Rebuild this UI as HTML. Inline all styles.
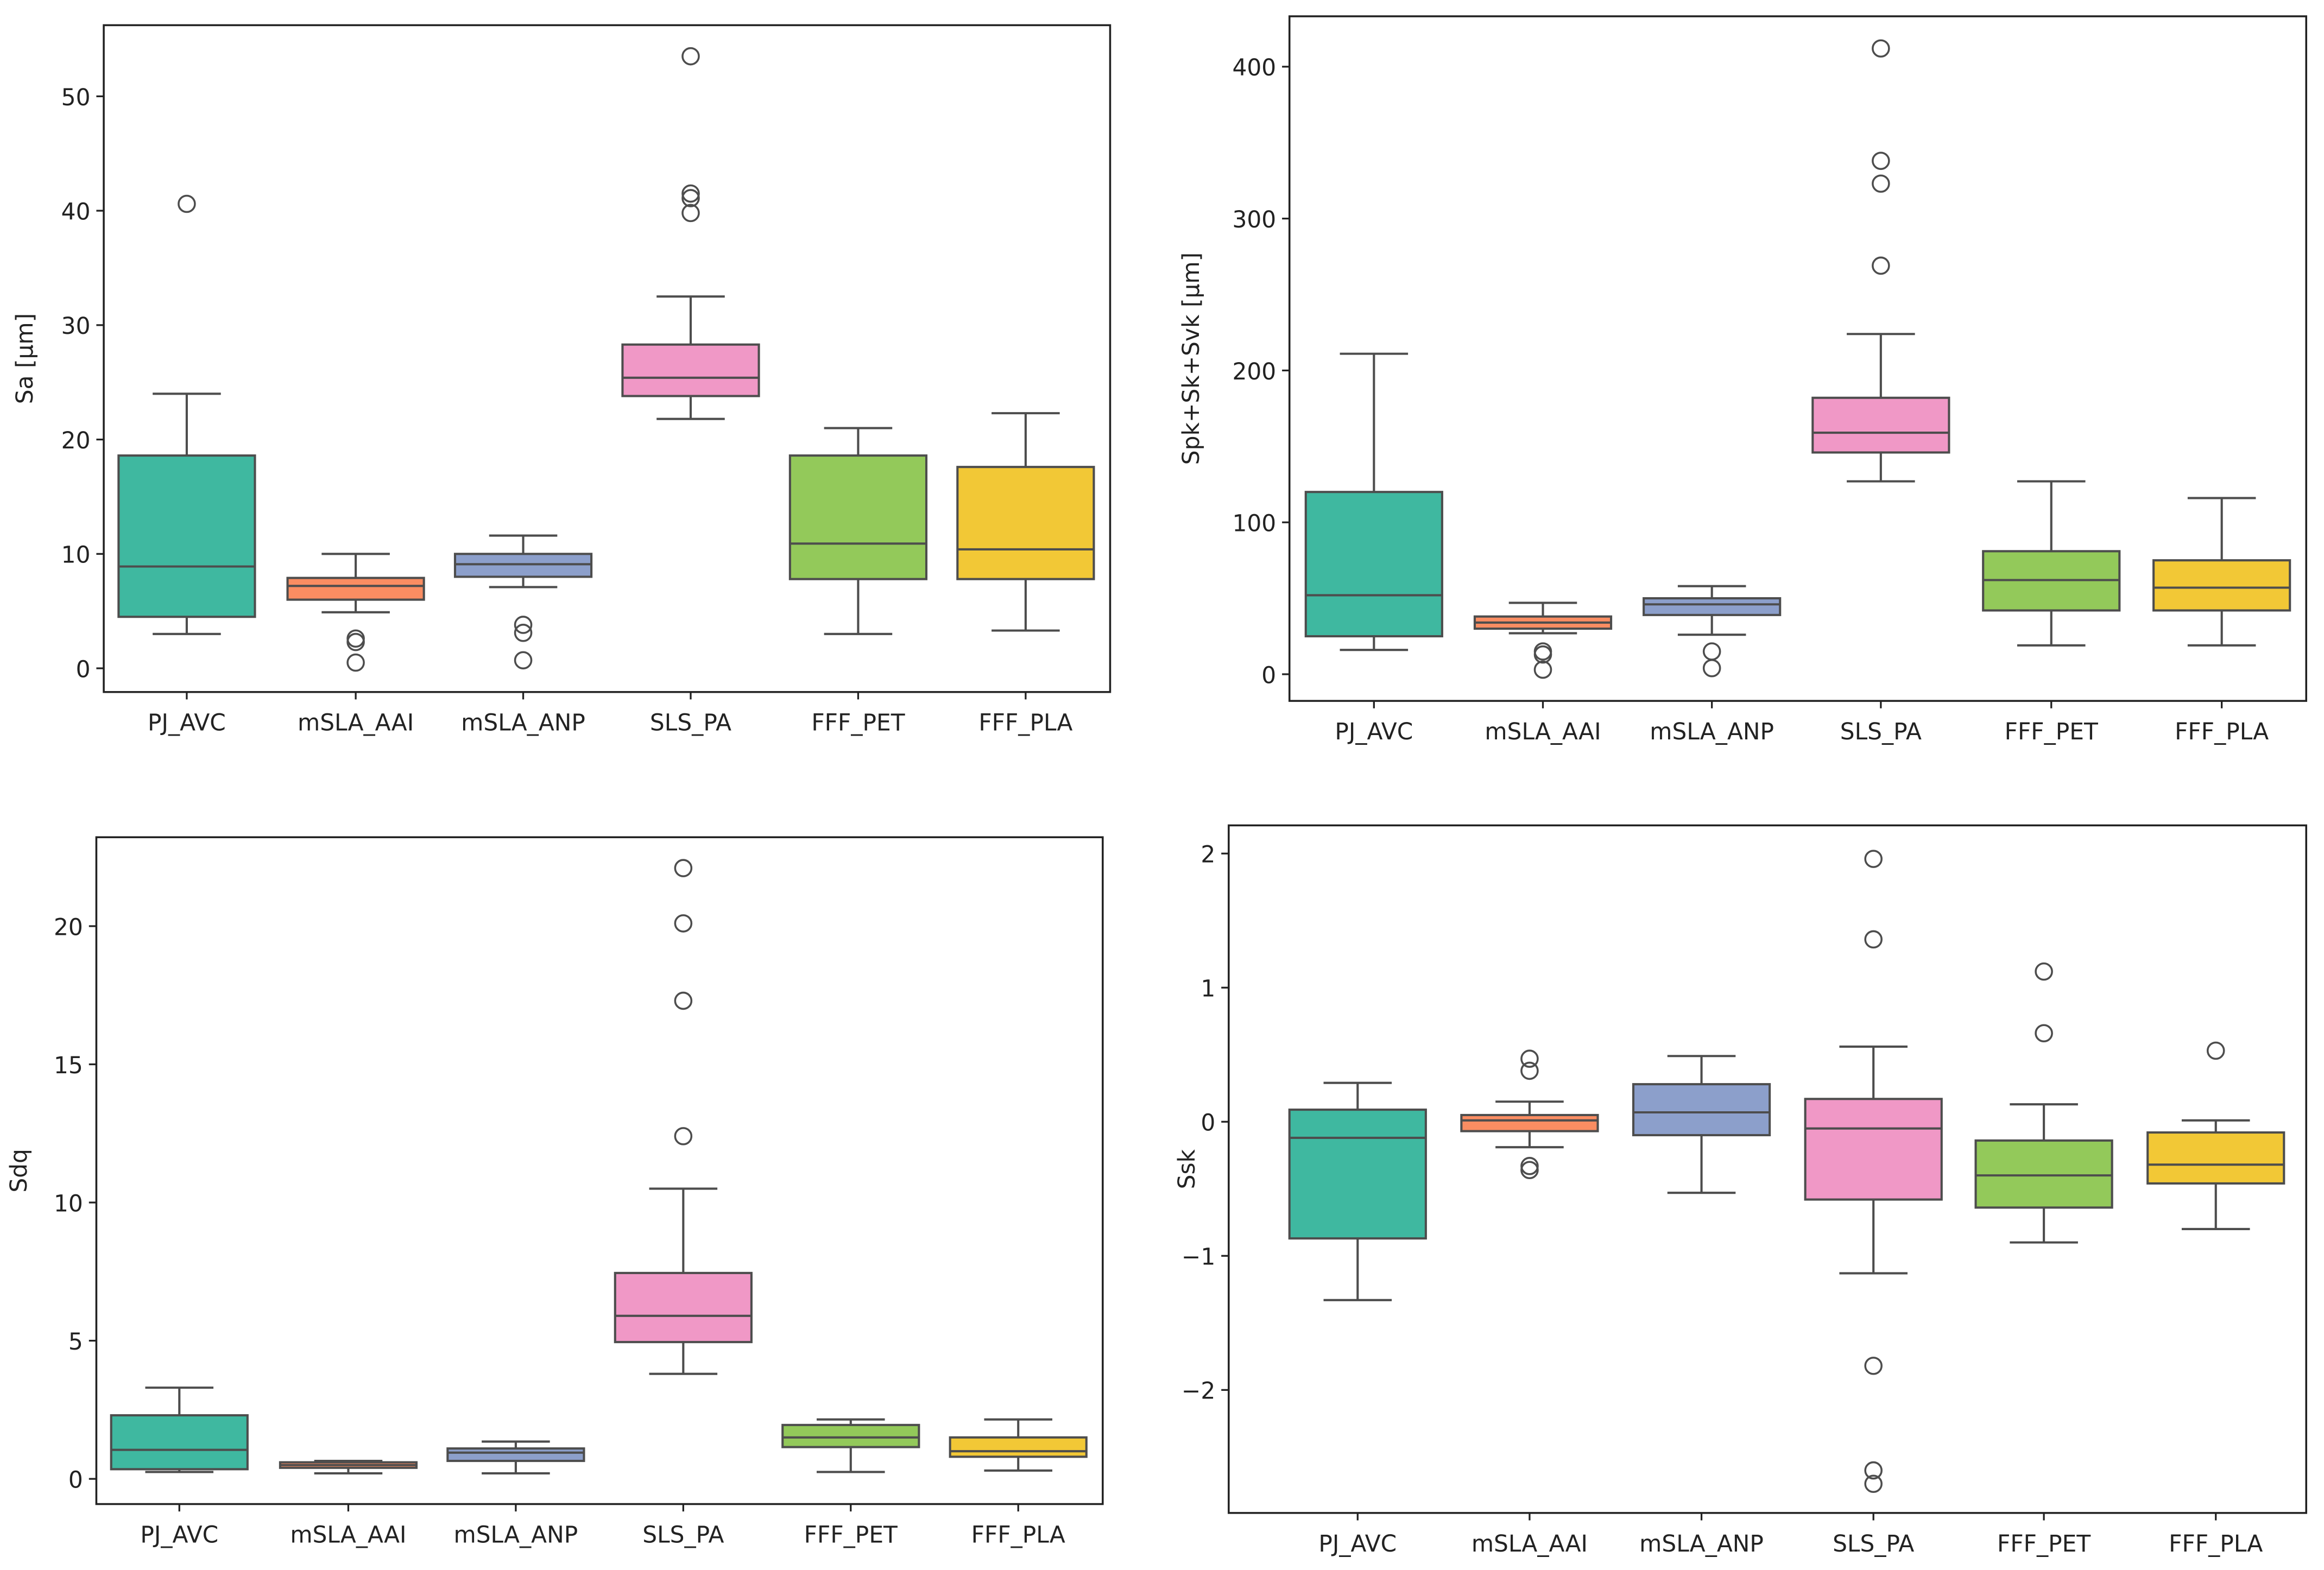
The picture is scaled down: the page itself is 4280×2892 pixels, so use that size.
<!DOCTYPE html>
<html><head><meta charset="utf-8"><style>
html,body{margin:0;padding:0;background:#fff}
svg{display:block}
text{font-family:"DejaVu Sans","Liberation Sans",sans-serif;fill:#222}
</style></head><body>
<svg id="fig" width="4280" height="2892" viewBox="0 0 1568 1059.5" xmlns="http://www.w3.org/2000/svg"></svg>
<script>
const categories = ["PJ_AVC","mSLA_AAI","mSLA_ANP","SLS_PA","FFF_PET","FFF_PLA"];
const colors = ["#3fb8a0","#fa8d62","#8c9fcb","#f098c6","#93c95a","#f2c836"];
// [whiskerLow, q1, median, q3, whiskerHigh]
const saStats = [[3,4.5,8.9,18.6,24],[4.9,6,7.2,7.9,10],[7.1,8,9.1,10,11.6],[21.8,23.8,25.4,28.3,32.5],[3,7.8,10.9,18.6,21],[3.3,7.8,10.4,17.6,22.3]];
const saOut = [[40.6],[2.6,2.3,0.5],[3.8,3.1,0.7],[53.5,41.5,41.1,39.8],[],[]];
const saTicks = [0,10,20,30,40,50];
const spStats = [[16,25,52,120,211],[27,30,34,38,47],[26,39,46,50,58],[127,146,159,182,224],[19,42,62,81,127],[19,42,57,75,116]];
const spOut = [[],[15,13,3],[15,4],[412,338,323,269],[],[]];
const spTicks = [0,100,200,300,400];
const sdqStats = [[0.25,0.35,1.05,2.3,3.3],[0.2,0.4,0.5,0.6,0.65],[0.2,0.65,0.95,1.1,1.35],[3.8,4.95,5.9,7.45,10.5],[0.25,1.15,1.5,1.95,2.15],[0.3,0.8,1.0,1.5,2.15]];
const sdqOut = [[],[],[],[22.1,20.1,17.3,12.4],[],[]];
const sdqTicks = [0,5,10,15,20];
const sskStats = [[-1.33,-0.87,-0.12,0.09,0.29],[-0.19,-0.07,0.01,0.05,0.15],[-0.53,-0.1,0.07,0.28,0.49],[-1.13,-0.58,-0.05,0.17,0.56],[-0.9,-0.64,-0.4,-0.14,0.13],[-0.8,-0.46,-0.32,-0.08,0.01]];
const sskOut = [[],[0.47,0.38,-0.33,-0.36],[],[1.96,1.36,-1.82,-2.6,-2.7],[1.12,0.66],[0.53]];
const sskTicks = [-2,-1,0,1,2];
const tickLabelFmt = v => v < 0 ? "\u2212" + Math.abs(v) : String(v);

const NS = "http://www.w3.org/2000/svg";
const svg = document.getElementById("fig");
function mk(tag, attrs, parent){const e=document.createElementNS(NS,tag);for(const k in attrs)e.setAttribute(k,attrs[k]);(parent||svg).appendChild(e);return e;}

function panel(name, box, y0v, y0p, y1v, y1p, centers, stats, outs, ticks, ylabel, ylabelX){
  const g = mk("g",{});
  
  
  const y = v => y0p + (v - y0v) * (y1p - y0p) / (y1v - y0v);
  const bw = 92;
  stats.forEach((s,i)=>{
    const cx = centers[i];
    const bg = mk("g",{},g);
    
    
    const st = {stroke:"#4d4d4d","stroke-width":1.5};
    mk("line",Object.assign({x1:cx,x2:cx,y1:y(s[0]),y2:y(s[1])},st),bg);
    mk("line",Object.assign({x1:cx,x2:cx,y1:y(s[3]),y2:y(s[4])},st),bg);
    mk("line",Object.assign({x1:cx-bw/4,x2:cx+bw/4,y1:y(s[0]),y2:y(s[0])},st),bg);
    mk("line",Object.assign({x1:cx-bw/4,x2:cx+bw/4,y1:y(s[4]),y2:y(s[4])},st),bg);
    mk("rect",Object.assign({x:cx-bw/2,y:y(s[3]),width:bw,height:Math.max(0.5,y(s[1])-y(s[3])),fill:colors[i]},st),bg);
    mk("line",Object.assign({x1:cx-bw/2,x2:cx+bw/2,y1:y(s[2]),y2:y(s[2])},st),bg);
    outs[i].forEach(o=>{
      const c = mk("circle",{cx:cx,cy:y(o),r:5.5,fill:"none",stroke:"#4d4d4d","stroke-width":1.3},bg);
      
      
    });
    mk("line",{x1:cx,x2:cx,y1:box[3],y2:box[3]+5,stroke:"#222","stroke-width":1.2},g);
    const t = mk("text",{x:cx,y:box[3]+26,"font-size":15.5,"text-anchor":"middle"},g);
    t.textContent = categories[i];
    
    
  });
  ticks.forEach(v=>{
    mk("line",{x1:box[0]-5,x2:box[0],y1:y(v),y2:y(v),stroke:"#222","stroke-width":1.2},g);
    const t = mk("text",{x:box[0]-9,y:y(v)+6,"font-size":15.5,"text-anchor":"end"},g);
    t.textContent = tickLabelFmt(v);
    
    
  });
  const fr = mk("rect",{x:box[0],y:box[1],width:box[2]-box[0],height:box[3]-box[1],fill:"none",stroke:"#222","stroke-width":1.3},g);
  
  
  const cy = (box[1]+box[3])/2;
  const yl = mk("text",{x:ylabelX,y:cy,"font-size":15.5,"text-anchor":"middle",transform:`rotate(-90 ${ylabelX} ${cy})`},g);
  yl.textContent = ylabel;
  
  
}

panel("sa-panel",[70,17,749,467],0,451,50,65,[126,240,353,466,579,692],saStats,saOut,saTicks,"Sa [\u00b5m]",22);
panel("spk-panel",[870,11,1556,473],0,455,400,45,[927,1041,1155,1269,1384,1499],spStats,spOut,spTicks,"Spk+Sk+Svk [\u00b5m]",809);
panel("sdq-panel",[65,565,744,1015],0,998,20,625,[121,235,348,461,574,687],sdqStats,sdqOut,sdqTicks,"Sdq",18);
panel("ssk-panel",[829,557,1556,1021],0,757,2,576,[916,1032,1148,1264,1379,1495],sskStats,sskOut,sskTicks,"Ssk",806);
</script>
</body></html>
